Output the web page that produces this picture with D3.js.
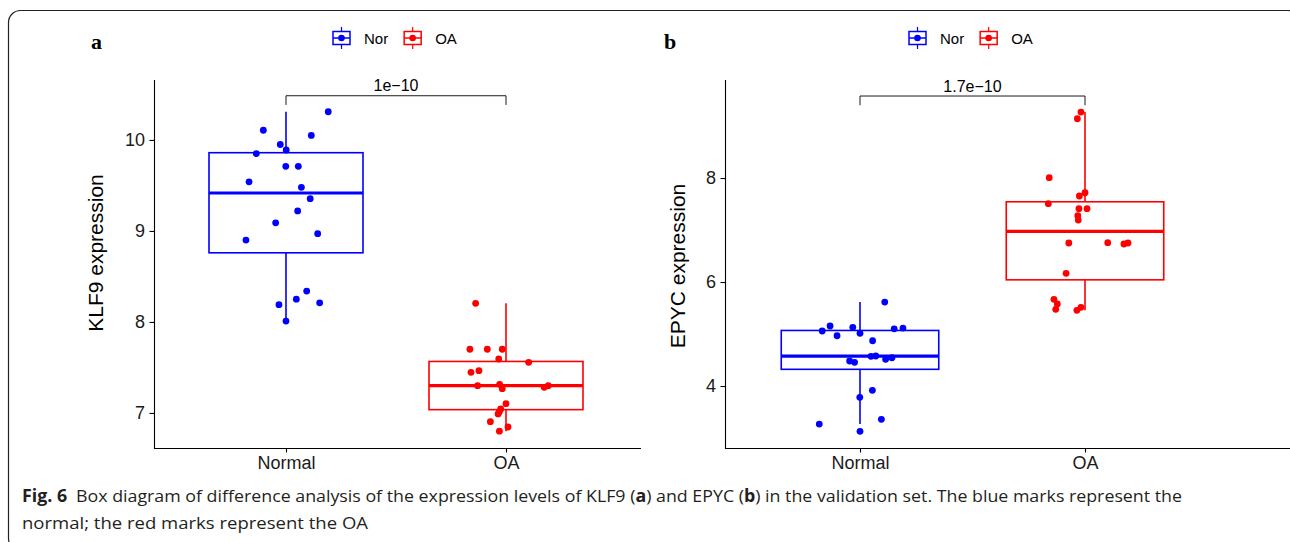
<!DOCTYPE html>
<html><head><meta charset="utf-8">
<script src="https://cdn.jsdelivr.net/npm/d3@7"></script>
<style>html,body{margin:0;padding:0;background:#fff;}</style>
</head><body>
<svg id="chart" width="1290" height="542"></svg>
<script>
const categories = ["Normal", "OA"];
const legendLabels = ["Nor", "OA"];
const colors = ["#0000FF", "#FF0000"];

// Panel a: KLF9 expression
const klf9Normal = [10.31,10.107,10.05,9.95,9.89,9.85,9.71,9.71,9.54,9.48,9.355,9.22,9.09,8.97,8.90,8.34,8.25,8.19,8.21,8.01];
const klf9NormalJitter = [0.192,-0.103,0.115,-0.026,0.001,-0.135,-0.001,0.056,-0.168,0.070,0.110,0.053,-0.047,0.144,-0.182,0.094,0.047,-0.032,0.153,0.0];
const klf9OA = [8.205,7.70,7.70,7.70,7.593,7.557,7.447,7.465,7.30,7.315,7.267,7.282,7.30,7.102,7.044,7.014,6.989,6.904,6.846,6.80];
const klf9OAJitter = [-0.138,-0.164,-0.085,-0.017,-0.033,0.103,-0.159,-0.123,-0.129,-0.029,-0.017,0.174,0.192,0.0,-0.024,-0.030,-0.036,-0.071,0.009,-0.030];
const klf9Ticks = [7, 8, 9, 10];
const klf9P = "1e\u221210";

// Panel b: EPYC expression
const epycNormal = [5.615,5.154,5.129,5.058,5.10,5.115,5.013,4.967,4.871,4.571,4.577,4.513,4.544,4.481,4.456,3.917,3.783,3.360,3.269,3.129];
const epycNormalJitter = [0.110,-0.133,-0.032,-0.168,0.152,0.191,0.0,-0.102,0.056,0.049,0.070,0.114,0.142,-0.046,-0.024,0.055,-0.001,0.095,-0.181,0.0];
const epycOA = [9.269,9.14,8.006,7.717,7.654,7.506,7.41,7.41,7.275,7.192,6.75,6.756,6.731,6.75,6.167,5.667,5.577,5.475,5.456,5.513];
const epycOAJitter = [-0.018,-0.034,-0.159,0.0,-0.025,-0.163,-0.027,0.009,-0.032,-0.030,-0.072,0.101,0.173,0.191,-0.084,-0.138,-0.123,-0.130,-0.036,-0.018];
const epycTicks = [4, 6, 8];
const epycP = "1.7e\u221210";

const svg = d3.select("#chart");
const sans = "Liberation Sans, Arial, sans-serif";

// outer rounded frame
svg.append("rect").attr("x", 8.5).attr("y", 10.5).attr("width", 1292).attr("height", 540)
  .attr("rx", 12).attr("fill", "none").attr("stroke", "#222").attr("stroke-width", 1.2);

function panel(opt) {
  const g = svg.append("g");
  const x = d3.scalePoint().domain(categories).range(opt.xr).padding(0.6);
  const step = x.step();
  const y = d3.scaleLinear().domain(opt.yd).range([448, 80]);

  const yAxis = g.append("g").attr("transform", `translate(${opt.xr[0]},0)`)
    .call(d3.axisLeft(y).tickValues(opt.ticks).tickFormat(d3.format("d")).tickSize(4.5).tickPadding(4.5).tickSizeOuter(0));
  const xAxis = g.append("g").attr("transform", `translate(0,448)`)
    .call(d3.axisBottom(x).tickSize(4.5).tickPadding(4).tickSizeOuter(0));
  [yAxis, xAxis].forEach(a => {
    a.select(".domain").remove();
    a.selectAll(".tick line").attr("stroke", "#000").attr("stroke-width", 1.1);
    a.selectAll(".tick text").attr("fill", "#1a1a1a").attr("font-family", sans).attr("font-size", 18);
  });
  // axis lines drawn to the panel edges
  g.append("path")
    .attr("d", `M${opt.xr[0] + 0.5},80V448.5H${opt.axisEnd}`)
    .attr("fill", "none").attr("stroke", "#000").attr("stroke-width", 1.1);

  g.append("text").attr("transform", `translate(${opt.titleX},${opt.titleY}) rotate(-90)`)
    .attr("text-anchor", "middle").attr("font-family", sans)
    .attr("font-size", 21).attr("fill", "#000").text(opt.title);

  g.append("text").attr("x", opt.letterX).attr("y", 49).attr("font-family", "Liberation Serif, Times New Roman, serif")
    .attr("font-weight", "bold").attr("font-size", 22).attr("fill", "#000").text(opt.letter);

  opt.groups.forEach((grp, i) => {
    const vals = grp.vals.slice().sort(d3.ascending);
    const q1 = d3.quantile(vals, 0.25), med = d3.quantile(vals, 0.5), q3 = d3.quantile(vals, 0.75);
    const iqr = q3 - q1;
    const lo = d3.min(vals.filter(v => v >= q1 - 1.5 * iqr));
    const hi = d3.max(vals.filter(v => v <= q3 + 1.5 * iqr));
    const cx = x(categories[i]);
    const bw = step * 0.7;
    const col = colors[i];
    const bg = g.append("g").attr("stroke", col).attr("fill", "none");
    bg.append("line").attr("x1", cx).attr("x2", cx).attr("y1", y(hi)).attr("y2", y(q3)).attr("stroke-width", 1.6);
    bg.append("line").attr("x1", cx).attr("x2", cx).attr("y1", y(q1)).attr("y2", y(lo)).attr("stroke-width", 1.6);
    bg.append("rect").attr("x", cx - bw / 2).attr("y", y(q3)).attr("width", bw).attr("height", y(q1) - y(q3))
      .attr("fill", "#fff").attr("stroke-width", 1.6);
    bg.append("line").attr("x1", cx - bw / 2).attr("x2", cx + bw / 2).attr("y1", y(med)).attr("y2", y(med)).attr("stroke-width", 3.2);
    g.append("g").selectAll("circle").data(grp.vals).join("circle")
      .attr("cx", (d, j) => cx + grp.jit[j] * step).attr("cy", d => y(d)).attr("r", 3.4).attr("fill", col);
  });

  const x1 = x(categories[0]), x2 = x(categories[1]);
  const by = y(opt.bracket[0]), bt = y(opt.bracket[1]);
  g.append("path").attr("d", `M${x1},${bt}V${by}H${x2}V${bt}`).attr("fill", "none").attr("stroke", "#000").attr("stroke-width", 0.9);
  g.append("text").attr("x", (x1 + x2) / 2).attr("y", by - 4.5).attr("text-anchor", "middle")
    .attr("font-family", sans).attr("font-size", 16).attr("fill", "#000").text(opt.p);

  const lg = g.append("g").attr("transform", `translate(${opt.legendX},38)`);
  let lx = 0;
  legendLabels.forEach((lab, i) => {
    const k = lg.append("g").attr("transform", `translate(${lx},0)`).attr("stroke", colors[i]).attr("fill", "none");
    k.append("line").attr("x1", 9.5).attr("x2", 9.5).attr("y1", -11).attr("y2", 11).attr("stroke-width", 1.2);
    k.append("rect").attr("x", 1).attr("y", -6.5).attr("width", 17).attr("height", 13).attr("fill", "#fff").attr("stroke-width", 1.5);
    k.append("line").attr("x1", 1).attr("x2", 18).attr("y1", 0).attr("y2", 0).attr("stroke-width", 1.5);
    k.append("circle").attr("cx", 9.5).attr("cy", 0).attr("r", 3.3).attr("fill", colors[i]).attr("stroke", "none");
    const t = lg.append("text").attr("x", lx + 32).attr("y", 5.5).attr("font-family", sans)
      .attr("font-size", 15).attr("fill", "#000").text(lab);
    lx += 32 + t.node().getComputedTextLength() + 15;
  });
}

panel({ xr: [154, 638], axisEnd: 641, yd: [6.615, 10.659], ticks: klf9Ticks, title: "KLF9 expression", titleX: 103, titleY: 253,
  letter: "a", letterX: 91, legendX: 332, p: klf9P, bracket: [10.486, 10.385],
  groups: [{ vals: klf9Normal, jit: klf9NormalJitter }, { vals: klf9OA, jit: klf9OAJitter }] });

panel({ xr: [725, 1220], axisEnd: 1290, yd: [2.808, 9.885], ticks: epycTicks, title: "EPYC expression", titleX: 685, titleY: 266,
  letter: "b", letterX: 664, legendX: 908, p: epycP, bracket: [9.577, 9.40],
  groups: [{ vals: epycNormal, jit: epycNormalJitter }, { vals: epycOA, jit: epycOAJitter }] });

const cap = svg.append("text").attr("x", 22).attr("y", 502).attr("font-family", "Open Sans, sans-serif")
  .attr("font-size", 17).attr("fill", "#231f20").attr("textLength", 1160).attr("lengthAdjust", "spacingAndGlyphs");
cap.append("tspan").attr("font-weight", "bold").text("Fig. 6");
cap.append("tspan").text("\u2002Box diagram of difference analysis of the expression levels of KLF9 (");
cap.append("tspan").attr("font-weight", "bold").text("a");
cap.append("tspan").text(") and EPYC (");
cap.append("tspan").attr("font-weight", "bold").text("b");
cap.append("tspan").text(") in the validation set. The blue marks represent the");
svg.append("text").attr("x", 22).attr("y", 529).attr("font-family", "Open Sans, sans-serif")
  .attr("font-size", 17).attr("fill", "#231f20").attr("textLength", 346).attr("lengthAdjust", "spacingAndGlyphs")
  .text("normal; the red marks represent the OA");
</script>
</body></html>
